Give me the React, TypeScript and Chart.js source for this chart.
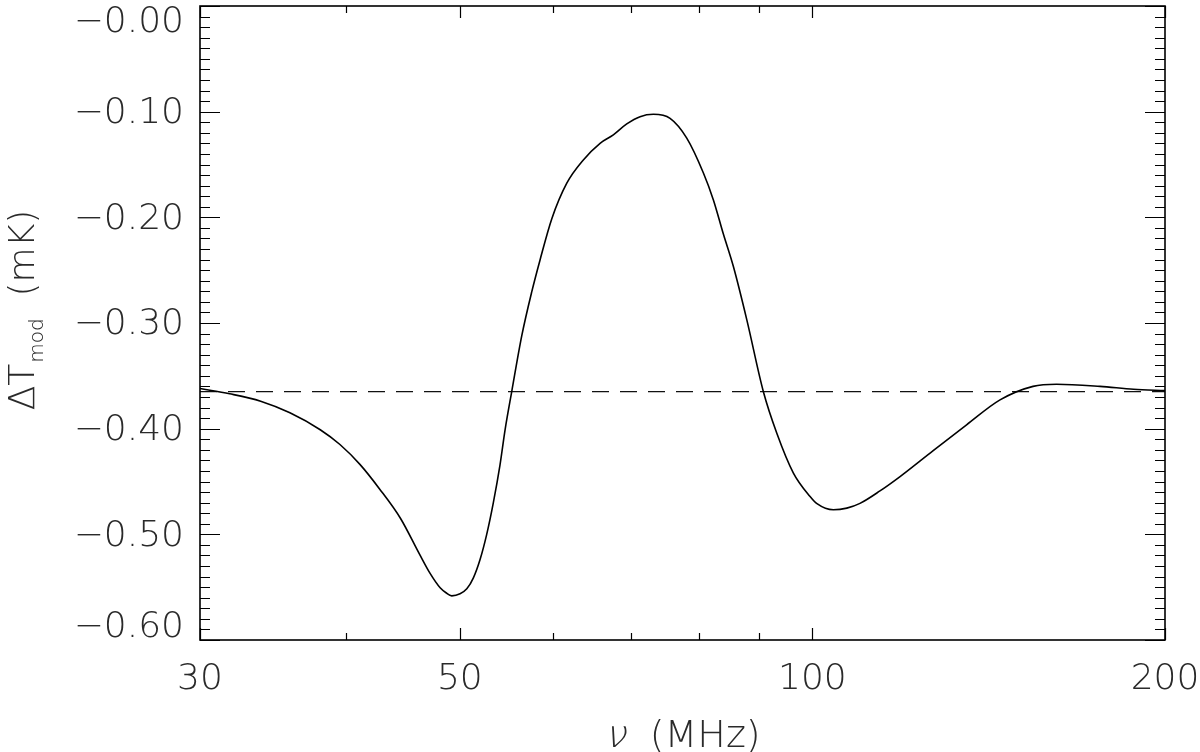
import React, { useEffect, useRef } from 'react';
import { Chart, registerables } from 'chart.js';

Chart.register(...registerables);

// ---- data ----
const freqMHz = [
  30.0, 31.8, 33.8, 35.8, 38.0, 39.5, 41.1, 42.7, 44.5, 46.2, 47.16, 48.1, 48.66, 49.21, 50.02, 50.69,
  51.35, 52.02, 52.7, 53.4, 54.11, 54.65, 55.37, 56.47, 57.59, 58.54, 59.9, 61.7, 63.74, 65.87, 67.61, 69.42,
  71.26, 73.15, 75.59, 78.11, 80.71, 82.31, 83.94, 85.61, 87.9, 90.81, 93.24, 96.33, 99.54, 100.9, 104.2,
  107.0, 109.8, 114.2, 118.8, 126.8, 135.4, 144.6, 154.3, 161.6, 176.0, 188.0, 200.0,
];
const deltaTmod = [
  -0.362, -0.367, -0.374, -0.385, -0.401, -0.415, -0.434, -0.457, -0.485, -0.519, -0.537, -0.5506, -0.5553, -0.5582, -0.5563, -0.5516,
  -0.5412, -0.5241, -0.5005, -0.4702, -0.4342, -0.4011, -0.3649, -0.3122, -0.2706, -0.2403, -0.2015, -0.1677, -0.1457, -0.1299, -0.122, -0.1116,
  -0.1047, -0.1025, -0.1063, -0.125, -0.158, -0.1835, -0.2158, -0.2466, -0.297, -0.365, -0.4043, -0.442, -0.4642, -0.471, -0.4768,
  -0.4752, -0.4707, -0.4589, -0.4453, -0.4207, -0.3964, -0.3728, -0.360, -0.358, -0.360, -0.3627, -0.364,
];
const referenceLevel = -0.365;

const xMin = 30;
const xMax = 200;
const xTickValues = [30, 50, 100, 200];
const xMinorTickValues = [40, 60, 70, 80, 90];
const yMin = -0.6;
const yMax = 0;
const yTickValues = [0, -0.1, -0.2, -0.3, -0.4, -0.5, -0.6];
const yMinorStep = 0.01;

const xTitleSymbol = 'ν';
const xTitleUnit = '  (MHz)';
const yTitleMain = 'ΔT';
const yTitleSub = 'mod';
const yTitleUnit = '  (mK)';

const FAMILY = '"DejaVu Sans", "Liberation Sans", sans-serif';
const TEXT_COLOR = '#2a2a2a';

const formatY = (v: number): string | string[] => {
  const s = '\u2212' + Math.abs(v).toFixed(2);
  if (Math.abs(v - yMax) < 1e-9) return ['', s];
  if (Math.abs(v - yMin) < 1e-9) return [s, ''];
  return s;
};

const framePlugin = {
  id: 'idlFrame',
  afterDraw(chart: any) {
    const { ctx, chartArea: a, scales } = chart;
    const xs = scales.x;
    const ys = scales.y;
    ctx.save();
    ctx.strokeStyle = '#000';
    ctx.lineWidth = 1.6;
    ctx.strokeRect(a.left, a.top, a.right - a.left, a.bottom - a.top);
    ctx.lineWidth = 1.2;
    ctx.beginPath();
    const n = Math.round((yMax - yMin) / yMinorStep);
    for (let i = 0; i <= n; i++) {
      const v = yMax - i * yMinorStep;
      const py = Math.round(ys.getPixelForValue(v)) + 0.5;
      const len = i % 10 === 0 ? 20 : 10;
      ctx.moveTo(a.left, py);
      ctx.lineTo(a.left + len, py);
      ctx.moveTo(a.right, py);
      ctx.lineTo(a.right - len, py);
    }
    const drawX = (v: number, len: number) => {
      const px = Math.round(xs.getPixelForValue(v)) + 0.5;
      ctx.moveTo(px, a.bottom);
      ctx.lineTo(px, a.bottom - len);
      ctx.moveTo(px, a.top);
      ctx.lineTo(px, a.top + len);
    };
    xTickValues.forEach((v) => drawX(v, 12));
    xMinorTickValues.forEach((v) => drawX(v, 7));
    ctx.stroke();
    ctx.restore();
  },
};

const titlesPlugin = {
  id: 'idlTitles',
  afterDraw(chart: any) {
    const { ctx, chartArea: a } = chart;
    ctx.save();
    ctx.fillStyle = TEXT_COLOR;
    ctx.textBaseline = 'alphabetic';
    ctx.textAlign = 'left';

    // x title: slanted nu + unit
    const fx = `200 38px ${FAMILY}`;
    ctx.font = fx;
    const w1 = ctx.measureText(xTitleSymbol).width;
    const w2 = ctx.measureText(xTitleUnit).width;
    const cx = (a.left + a.right) / 2;
    const x0 = cx - (w1 + w2) / 2;
    const base = 747;
    ctx.save();
    ctx.translate(x0, base);
    ctx.transform(1, 0, -0.25, 1, 0, 0);
    ctx.fillText(xTitleSymbol, 0, 0);
    ctx.restore();
    ctx.fillText(xTitleUnit, x0 + w1, base);

    // y title (rotated)
    const fm = `200 36px ${FAMILY}`;
    const fs = `200 20px ${FAMILY}`;
    ctx.font = fm;
    const wa = ctx.measureText(yTitleMain).width;
    const wc = ctx.measureText(yTitleUnit).width;
    ctx.font = fs;
    const wb = ctx.measureText(yTitleSub).width;
    const total = wa + wb + wc;
    const cy = 310;
    ctx.translate(34, cy);
    ctx.rotate(-Math.PI / 2);
    let t = -total / 2;
    ctx.font = fm;
    ctx.fillText(yTitleMain, t, 0);
    t += wa;
    ctx.font = fs;
    ctx.fillText(yTitleSub, t + 1, 9);
    t += wb;
    ctx.font = fm;
    ctx.fillText(yTitleUnit, t, 0);
    ctx.restore();
  },
};

export default function App() {
  const ref = useRef<HTMLCanvasElement | null>(null);

  useEffect(() => {
    if (!ref.current) return;
    const curve = freqMHz.map((f, i) => ({ x: f, y: deltaTmod[i] }));
    const level = [
      { x: xMin, y: referenceLevel },
      { x: xMax, y: referenceLevel },
    ];
    const chart = new Chart(ref.current, {
      type: 'line',
      data: {
        datasets: [
          {
            data: curve,
            borderColor: '#000',
            borderWidth: 1.6,
            pointRadius: 0,
            fill: false,
            cubicInterpolationMode: 'monotone',
          },
          {
            data: level,
            borderColor: '#111',
            borderWidth: 1.2,
            borderDash: [17, 11],
            pointRadius: 0,
            fill: false,
          },
        ],
      },
      options: {
        animation: false,
        responsive: false,
        events: [],
        layout: { padding: { top: 6, right: 35, bottom: 0, left: 0 } },
        plugins: { legend: { display: false }, tooltip: { enabled: false } },
        scales: {
          x: {
            type: 'logarithmic',
            min: xMin,
            max: xMax,
            position: 'bottom',
            afterBuildTicks: (s: any) => {
              s.ticks = xTickValues.map((v) => ({ value: v }));
            },
            afterFit: (s: any) => {
              s.height = 112;
              s.paddingLeft = 0;
              s.paddingRight = 0;
            },
            grid: { display: false, drawTicks: false },
            border: { display: false },
            ticks: {
              autoSkip: false,
              maxRotation: 0,
              padding: 18,
              color: TEXT_COLOR,
              font: { family: FAMILY, size: 36, weight: 200 as any },
              callback: (v: any) => String(v),
            },
          },
          y: {
            type: 'linear',
            min: yMin,
            max: yMax,
            afterBuildTicks: (s: any) => {
              s.ticks = yTickValues.map((v) => ({ value: v }));
            },
            afterFit: (s: any) => {
              s.width = 200;
              s.paddingTop = 0;
              s.paddingBottom = 0;
            },
            grid: { display: false, drawTicks: false },
            border: { display: false },
            ticks: {
              autoSkip: false,
              padding: 16,
              labelOffset: 2,
              color: TEXT_COLOR,
              font: { family: FAMILY, size: 36, weight: 200 as any, lineHeight: 0.8 },
              callback: (v: any) => formatY(Number(v)) as any,
            },
          },
        },
      },
      plugins: [framePlugin, titlesPlugin],
    });
    return () => chart.destroy();
  }, []);

  return (
    <div style={{ position: 'fixed', left: 0, top: 0, width: 1200, height: 752, background: '#fff' }}>
      <canvas ref={ref} width={1200} height={752} style={{ display: 'block' }} />
    </div>
  );
}
